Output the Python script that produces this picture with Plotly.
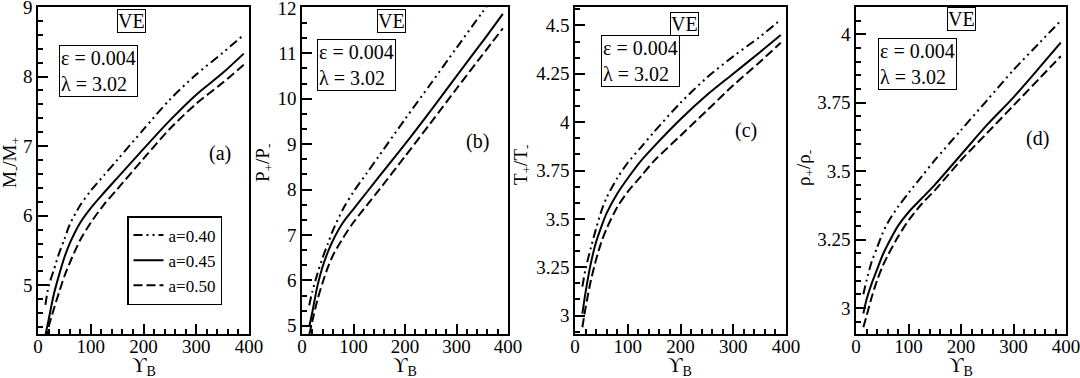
import plotly.graph_objects as go

# Upsilon_B values shared by every curve
ups = [14, 20, 30, 40, 50, 60, 80, 100, 125, 150, 200, 250, 300, 350, 390]

labels = ["a=0.40", "a=0.45", "a=0.50"]

# (a) M-/M+
m_040 = [4.72, 4.98, 5.22, 5.46, 5.66, 5.87, 6.15, 6.36, 6.58, 6.80, 7.24, 7.67, 8.03, 8.34, 8.60]
m_045 = [4.28, 4.50, 4.87, 5.15, 5.40, 5.60, 5.90, 6.11, 6.33, 6.54, 6.96, 7.37, 7.74, 8.05, 8.33]
m_050 = [4.22, 4.40, 4.66, 4.90, 5.13, 5.32, 5.65, 5.90, 6.16, 6.38, 6.82, 7.25, 7.61, 7.91, 8.17]

# (b) P+/P-
p_040 = [5.45, 5.75, 6.15, 6.50, 6.80, 7.10, 7.58, 7.95, 8.35, 8.75, 9.55, 10.33, 11.12, 11.90, 12.52]
p_045 = [4.98, 5.30, 5.88, 6.30, 6.62, 6.88, 7.28, 7.57, 7.93, 8.29, 9.00, 9.74, 10.50, 11.25, 11.87]
p_050 = [4.80, 5.10, 5.57, 5.95, 6.28, 6.55, 6.94, 7.28, 7.64, 8.00, 8.73, 9.47, 10.22, 10.96, 11.55]

# (c) T+/T-
t_040 = [3.15, 3.24, 3.35, 3.45, 3.54, 3.61, 3.71, 3.79, 3.87, 3.95, 4.10, 4.23, 4.34, 4.44, 4.53]
t_045 = [3.01, 3.12, 3.27, 3.38, 3.46, 3.53, 3.63, 3.71, 3.80, 3.875, 4.015, 4.14, 4.25, 4.36, 4.45]
t_050 = [2.94, 3.04, 3.18, 3.29, 3.38, 3.45, 3.56, 3.64, 3.72, 3.80, 3.93, 4.06, 4.19, 4.31, 4.41]

# (d) rho+/rho-
r_040 = [3.05, 3.10, 3.17, 3.22, 3.27, 3.31, 3.37, 3.42, 3.48, 3.54, 3.65, 3.76, 3.87, 3.97, 4.05]
r_045 = [2.98, 3.03, 3.09, 3.14, 3.19, 3.23, 3.30, 3.35, 3.40, 3.45, 3.56, 3.67, 3.77, 3.88, 3.97]
r_050 = [2.93, 2.97, 3.04, 3.10, 3.15, 3.19, 3.26, 3.32, 3.38, 3.43, 3.54, 3.64, 3.74, 3.84, 3.92]

panels = [
    ([m_040, m_045, m_050], "M<sub>-</sub>/M<sub>+</sub>", "(a)", [4.3, 9.0], 1, 0.2),
    ([p_040, p_045, p_050], "P<sub>+</sub>/P<sub>-</sub>", "(b)", [4.82, 12.02], 1, 1 / 3),
    ([t_040, t_045, t_050], "T<sub>+</sub>/T<sub>-</sub>", "(c)", [2.905, 4.595], 0.25, 0.25 / 3),
    ([r_040, r_045, r_050], "ρ<sub>+</sub>/ρ<sub>-</sub>", "(d)", [2.905, 4.1], 0.25, 0.05),
]

W, H = 1080, 378
xdom_px = [(38, 249), (302, 508), (575, 786), (856, 1066)]
ytop, ybot = 7, 334
dashes = ["9px,4px,2px,4px,2px,4px", "solid", "9px,4px"]

ve_pos = [(131, 21), (391, 21), (684, 24), (961, 19)]
eps_pos = [(98, 71), (356, 65), (640, 61), (917, 64)]
lab_pos = [(220, 153), (477, 142), (746, 131), (1037, 138)]
ytitle_pos = [(11, 163), (264, 163), (522, 165), (805, 168)]

serif = "Liberation Serif, Times New Roman, Tinos, DejaVu Serif, serif"
fig = go.Figure()
ann = []


def txt(px, py, text, size=20, **kw):
    d = dict(x=px / W, y=1 - py / H, xref="paper", yref="paper", text=text,
             xanchor="center", yanchor="middle", showarrow=False,
             font=dict(family=serif, size=size, color="black"))
    d.update(kw)
    return d


for i, (series, ytitle, lab, yr, dt, mdt) in enumerate(panels):
    n = "" if i == 0 else str(i + 1)
    for k, ys in enumerate(series):
        fig.add_trace(go.Scatter(
            x=ups, y=ys, mode="lines", name=labels[k],
            line=dict(color="black", width=2, dash=dashes[k], shape="spline", smoothing=0.8),
            showlegend=(i == 0), xaxis="x" + n, yaxis="y" + n,
        ))
    x0, x1 = xdom_px[i]
    axis_common = dict(
        showline=True, linecolor="black", linewidth=1.5, mirror=True,
        ticks="inside", ticklen=10, tickwidth=1.5, tickcolor="black",
        showgrid=False, zeroline=False, ticklabeloverflow="allow", automargin=False,
        tickfont=dict(family=serif, size=19, color="black"),
    )
    fig.update_layout(**{
        "xaxis" + n: dict(
            domain=[x0 / W, x1 / W], anchor="y" + n, range=[0, 400], dtick=100, tick0=0,
            ticklabelstandoff=-6,
            minor=dict(dtick=20, ticklen=5, ticks="inside", tickcolor="black", tickwidth=1.5),
            **axis_common),
        "yaxis" + n: dict(
            domain=[1 - ybot / H, 1 - ytop / H], anchor="x" + n, range=yr, dtick=dt, tick0=0,
            minor=dict(dtick=mdt, tick0=0, ticklen=5, ticks="inside", tickcolor="black", tickwidth=1.5),
            **axis_common),
    })
    tx, ty = ytitle_pos[i]
    ann.append(txt(tx, ty, ytitle, size=19, textangle=-90))
    ann.append(txt((x0 + x1) / 2, 366, "ϒ<sub>B</sub>"))
    vx, vy = ve_pos[i]
    ann.append(txt(vx, vy, "VE", bordercolor="black", borderwidth=1, borderpad=0, bgcolor="white"))
    ex, ey = eps_pos[i]
    ann.append(txt(ex, ey, "ε = 0.004<br>λ = 3.02", align="left",
                   bordercolor="black", borderwidth=1, borderpad=1, bgcolor="white"))
    lx, ly = lab_pos[i]
    ann.append(txt(lx, ly, lab))

fig.update_layout(
    width=W, height=H,
    margin=dict(l=0, r=0, t=0, b=0, autoexpand=False),
    paper_bgcolor="white", plot_bgcolor="white",
    annotations=ann,
    legend=dict(x=127 / W, y=1 - 216 / H, xanchor="left", yanchor="top",
                bordercolor="black", borderwidth=1.5, bgcolor="white",
                font=dict(family=serif, size=17, color="black"),
                tracegroupgap=0, itemwidth=30),
)

fig.write_html("out.html", config={"displayModeBar": False},
               post_script="document.body.style.margin='0';")
